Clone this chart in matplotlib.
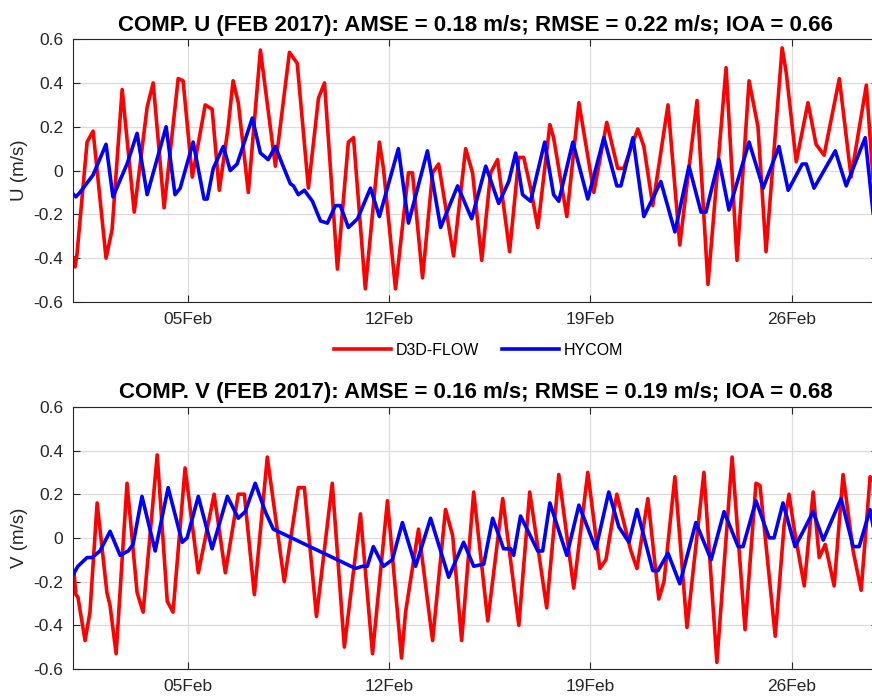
import matplotlib
matplotlib.use("Agg")
import matplotlib.pyplot as plt
from matplotlib.ticker import FuncFormatter

plt.rcParams['font.family'] = ['Liberation Sans', 'DejaVu Sans']
plt.rcParams['axes.unicode_minus'] = False

# time in days of Feb 2017 (1.0 = 01Feb 00:00)
u_d3d_t = [1.02, 1.07, 1.14, 1.49, 1.70, 2.15, 2.36, 2.71, 3.13, 3.58, 3.79, 4.17, 4.66, 4.83,
           5.15, 5.60, 5.84, 6.09, 6.40, 6.57, 6.75, 7.10, 7.52, 8.04, 8.53, 8.80, 9.19, 9.54,
           9.75, 10.20, 10.58, 10.76, 11.17, 11.66, 11.80, 12.22, 12.67, 12.81, 13.16, 13.51,
           13.72, 14.24, 14.66, 14.90, 15.22, 15.53, 15.77, 16.19, 16.51, 16.68, 16.92, 17.17,
           17.59, 17.72, 18.18, 18.60, 19.12, 19.57, 19.95, 20.16, 20.65, 20.86, 21.17, 21.70,
           22.11, 22.71, 23.09, 23.72, 24.10, 24.52, 24.83, 25.11, 25.67, 25.81, 26.16, 26.57,
           26.85, 27.13, 27.66, 28.07, 28.60, 28.84]
u_d3d = [-0.40, -0.44, -0.38, 0.13, 0.18, -0.40, -0.27, 0.37, -0.19, 0.29, 0.40, -0.17, 0.42, 0.41,
         -0.03, 0.30, 0.28, -0.09, 0.20, 0.41, 0.31, -0.10, 0.55, 0.02, 0.54, 0.49, -0.08, 0.33,
         0.40, -0.45, 0.13, 0.15, -0.54, 0.13, 0.01, -0.54, -0.01, -0.01, -0.49, -0.01,
         0.03, -0.39, 0.10, -0.01, -0.41, -0.01, 0.05, -0.37, 0.06, 0.06, -0.08, -0.26,
         0.21, 0.15, -0.21, 0.31, -0.10, 0.22, 0.01, 0.01, 0.19, 0.11, -0.16, 0.30,
         -0.34, 0.32, -0.52, 0.47, -0.41, 0.41, 0.20, -0.37, 0.56, 0.45, 0.04, 0.31,
         0.12, 0.07, 0.42, -0.03, 0.39, -0.05]

u_hyc_t = [1.03, 1.10, 1.24, 1.70, 2.15, 2.39, 2.88, 3.23, 3.58, 4.24, 4.55, 4.73, 5.18, 5.56,
           5.67, 5.88, 6.23, 6.47, 6.71, 7.24, 7.52, 7.79, 8.04, 8.28, 8.56, 8.67, 8.84, 9.05,
           9.33, 9.61, 9.85, 10.13, 10.30, 10.58, 10.90, 11.35, 11.66, 12.32, 12.67, 13.33,
           13.79, 14.38, 14.87, 15.36, 15.81, 16.16, 16.40, 16.64, 16.92, 17.41, 17.72, 17.90,
           18.39, 18.91, 19.47, 19.92, 20.06, 20.48, 20.86, 21.45, 21.94, 22.43, 22.85, 23.02,
           23.47, 23.82, 24.52, 25.01, 25.56, 25.88, 26.37, 26.51, 26.78, 27.52, 27.90, 28.56,
           28.84]
u_hyc = [-0.11, -0.12, -0.10, -0.02, 0.12, -0.12, 0.03, 0.17, -0.11, 0.20, -0.11, -0.08, 0.13, -0.13,
         -0.13, 0.01, 0.11, 0.00, 0.03, 0.24, 0.08, 0.05, 0.11, 0.03, -0.06, -0.07, -0.11, -0.09,
         -0.14, -0.23, -0.24, -0.16, -0.16, -0.26, -0.22, -0.08, -0.21, 0.10, -0.24, 0.09,
         -0.26, -0.07, -0.22, 0.02, -0.15, -0.05, 0.08, -0.11, -0.14, 0.13, -0.11, -0.14,
         0.13, -0.13, 0.15, -0.07, -0.07, 0.15, -0.21, -0.05, -0.28, 0.02, -0.19, -0.19,
         0.05, -0.18, 0.13, -0.08, 0.11, -0.09, 0.03, 0.03, -0.08, 0.09, -0.07, 0.15,
         -0.20]

v_d3d_t = [1.03, 1.10, 1.17, 1.42, 1.59, 1.84, 2.18, 2.29, 2.50, 2.88, 3.23, 3.44, 3.93, 4.28,
           4.48, 4.90, 5.36, 5.91, 6.30, 6.75, 6.96, 7.31, 7.76, 8.35, 8.84, 9.05, 9.47, 10.02,
           10.44, 11.00, 11.42, 11.94, 12.43, 12.57, 13.02, 13.51, 13.96, 14.21, 14.52, 14.94,
           15.43, 15.95, 16.51, 16.89, 17.48, 17.90, 18.42, 18.91, 19.33, 19.54, 19.92, 20.41,
           20.62, 21.00, 21.38, 21.56, 21.94, 22.36, 22.95, 23.40, 23.93, 24.38, 24.76, 24.90,
           25.43, 25.74, 25.91, 26.09, 26.44, 26.75, 26.96, 27.17, 27.48, 27.79, 28.14, 28.42,
           28.73, 28.84]
v_d3d = [-0.15, -0.26, -0.27, -0.47, -0.34, 0.16, -0.25, -0.31, -0.53, 0.25, -0.25, -0.34, 0.38, -0.29,
         -0.34, 0.32, -0.16, 0.20, -0.16, 0.20, 0.20, -0.26, 0.37, -0.20, 0.23, 0.23, -0.36, 0.25,
         -0.50, 0.11, -0.53, 0.17, -0.55, -0.34, 0.04, -0.47, 0.13, 0.01, -0.47, 0.21,
         -0.38, 0.18, -0.40, 0.21, -0.32, 0.29, -0.23, 0.30, -0.14, -0.10, 0.20, -0.06,
         -0.14, 0.18, -0.28, -0.20, 0.28, -0.41, 0.30, -0.57, 0.37, -0.42, 0.25, 0.24,
         -0.45, 0.06, 0.20, 0.04, -0.22, 0.21, -0.09, -0.03, -0.22, 0.29, -0.06, -0.24,
         0.28, 0.26]

v_hyc_t = [1.00, 1.17, 1.49, 1.66, 1.94, 2.29, 2.64, 2.92, 3.09, 3.40, 3.86, 4.31, 4.80, 4.97,
           5.36, 5.84, 6.37, 6.75, 6.99, 7.34, 7.69, 7.97, 10.83, 11.07, 11.24, 11.45, 11.80,
           12.11, 12.46, 12.92, 13.44, 14.07, 14.59, 14.94, 15.29, 15.60, 15.98, 16.23, 16.33,
           16.57, 17.17, 17.34, 17.59, 18.18, 18.60, 19.19, 19.64, 19.99, 20.34, 20.62, 21.17,
           21.35, 21.70, 22.11, 22.67, 23.20, 23.65, 24.14, 24.31, 24.76, 25.22, 25.39, 25.70,
           26.12, 26.44, 26.75, 27.10, 27.72, 28.14, 28.35, 28.73, 28.84]
v_hyc = [-0.17, -0.13, -0.09, -0.09, -0.06, 0.03, -0.08, -0.06, -0.03, 0.19, -0.06, 0.23, -0.02, 0.00,
         0.19, -0.05, 0.19, 0.09, 0.12, 0.25, 0.12, 0.04, -0.14, -0.13, -0.13, -0.04, -0.13,
         -0.10, 0.07, -0.13, 0.09, -0.18, -0.02, -0.13, -0.12, 0.09, -0.05, -0.05, -0.08,
         0.10, -0.06, -0.06, 0.16, -0.08, 0.15, -0.05, 0.21, 0.05, -0.02, 0.13, -0.15,
         -0.15, -0.07, -0.21, 0.07, -0.10, 0.12, -0.04, -0.04, 0.17, 0.00, 0.00, 0.16,
         -0.04, 0.04, 0.12, -0.01, 0.18, -0.04, -0.04, 0.13, 0.05]

tick_days = [5, 12, 19, 26]
tick_labels = ['05Feb', '12Feb', '19Feb', '26Feb']
y_ticks = [-0.6, -0.4, -0.2, 0, 0.2, 0.4, 0.6]

titles = ['COMP. U (FEB 2017): AMSE = 0.18 m/s; RMSE = 0.22 m/s; IOA = 0.66',
          'COMP. V (FEB 2017): AMSE = 0.16 m/s; RMSE = 0.19 m/s; IOA = 0.68']
ylabels = ['U (m/s)', 'V (m/s)']

fig = plt.figure(figsize=(8.72, 6.99), dpi=100)
ax1 = fig.add_axes([0.0837, 0.568, 0.923, 0.376])
ax2 = fig.add_axes([0.0837, 0.043, 0.923, 0.375])

series = [(u_d3d_t, u_d3d, u_hyc_t, u_hyc), (v_d3d_t, v_d3d, v_hyc_t, v_hyc)]

for ax, (t1, y1, t2, y2), ttl, yl in zip([ax1, ax2], series, titles, ylabels):
    l1, = ax.plot(t1, y1, color='#ff0000', lw=2.6, label='D3D-FLOW')
    l2, = ax.plot(t2, y2, color='#0000ff', lw=2.6, label='HYCOM')
    ax.set_xlim(1, 29)
    ax.set_ylim(-0.6, 0.6)
    ax.set_xticks(tick_days)
    ax.set_xticklabels(tick_labels)
    ax.set_yticks(y_ticks)
    ax.yaxis.set_major_formatter(FuncFormatter(lambda v, p: '%g' % round(v, 1)))
    ax.grid(True, color='#dcdcdc', lw=0.9)
    ax.set_axisbelow(True)
    ax.tick_params(direction='in', length=5, width=0.8, top=True, right=True,
                   labelsize=12.5, colors='#262626', pad=7)
    for s in ax.spines.values():
        s.set_color('#262626')
        s.set_linewidth(0.8)
    ax.set_title(ttl, fontsize=16, fontweight='bold', pad=6)
    ax.set_ylabel(yl, fontsize=13.5, color='#262626', labelpad=4)

fig.legend([l1, l2], ['D3D-FLOW', 'HYCOM'], loc='center', bbox_to_anchor=(0.549, 0.499),
           ncol=2, frameon=False, fontsize=11.5, handlelength=3.6, columnspacing=1.4,
           handletextpad=0.3)

fig.savefig('out.png', dpi=100)
